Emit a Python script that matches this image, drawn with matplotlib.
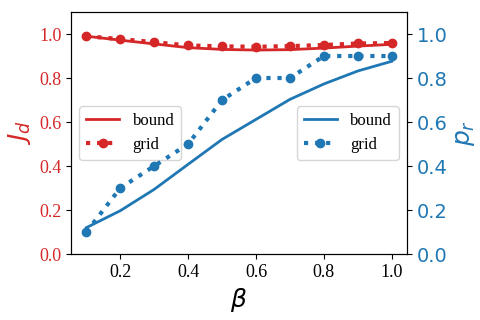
import matplotlib.pyplot as plt

beta = [0.1, 0.2, 0.3, 0.4, 0.5, 0.6, 0.7, 0.8, 0.9, 1.0]

# J_d (left axis)
jd_bound = [0.99, 0.972, 0.955, 0.938, 0.930, 0.927, 0.929, 0.936, 0.945, 0.953]
jd_grid = [0.99, 0.977, 0.963, 0.948, 0.944, 0.942, 0.945, 0.950, 0.957, 0.959]

# p_r (right axis)
pr_bound = [0.12, 0.197, 0.294, 0.408, 0.521, 0.612, 0.703, 0.773, 0.832, 0.876]
pr_grid = [0.1, 0.3, 0.4, 0.5, 0.7, 0.8, 0.8, 0.9, 0.9, 0.9]

red = 'tab:red'
blue = 'tab:blue'
serif = 'Liberation Serif'

fig, ax1 = plt.subplots(figsize=(4.8, 3.2), dpi=100)
fig.subplots_adjust(left=0.148, right=0.848, top=0.9625, bottom=0.206)

ax1.plot(beta, jd_bound, color=red, lw=2, label='bound')
ax1.plot(beta, jd_grid, color=red, lw=3, ls=':', marker='o', ms=6, label='grid')
ax1.set_ylim(0, 1.1)
ax1.set_xlabel(r'$\beta$', fontsize=18)
ax1.set_ylabel(r'$J_d$', color=red, fontsize=18)
ax1.tick_params(axis='y', labelcolor=red, labelsize=13)
ax1.tick_params(axis='x', labelsize=13)
for t in ax1.get_xticklabels() + ax1.get_yticklabels():
    t.set_family(serif)
ax1.legend(loc='center left', prop={'family': serif, 'size': 12})

ax2 = ax1.twinx()
ax2.plot(beta, pr_bound, color=blue, lw=2, label='bound')
ax2.plot(beta, pr_grid, color=blue, lw=3, ls=':', marker='o', ms=6, label='grid')
ax2.set_ylim(0, 1.1)
ax2.set_ylabel(r'$p_r$', color=blue, fontsize=18)
ax2.tick_params(axis='y', labelcolor=blue, labelsize=14)
ax2.legend(loc='center right', prop={'family': serif, 'size': 12})

plt.savefig('out.png')
